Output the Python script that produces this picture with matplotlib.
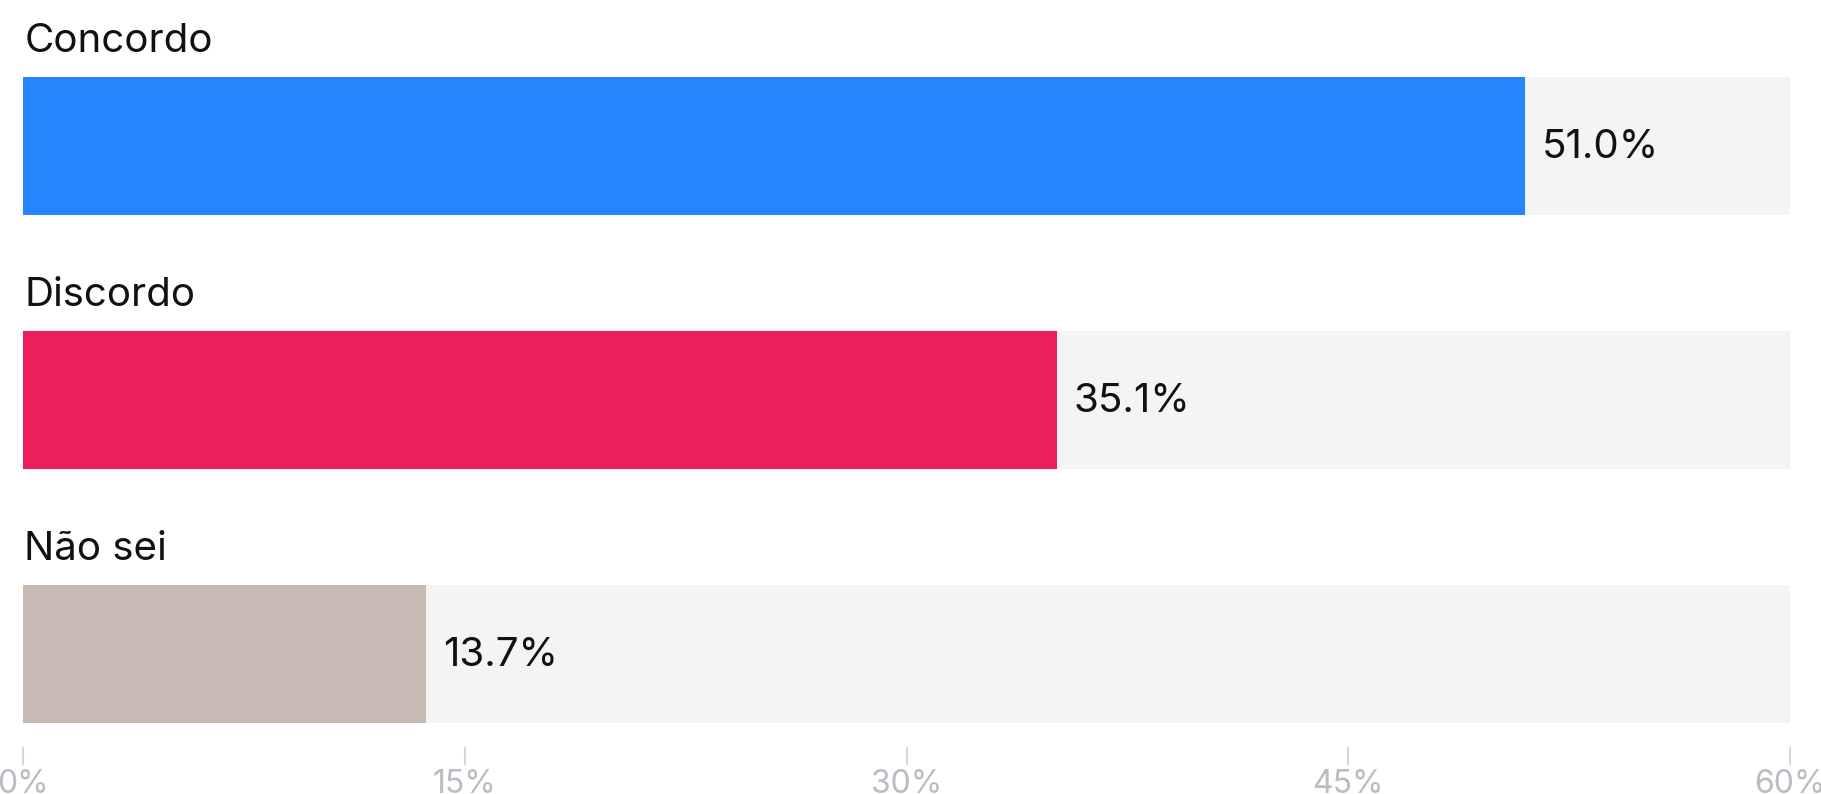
import matplotlib.pyplot as plt

# data
categories = ['Concordo', 'Discordo', 'Não sei']
values = [51.0, 35.1, 13.7]
colors = ['#2684ff', '#ec1f5c', '#c6bab2']
ticks = [0, 15, 30, 45, 60]

W, H = 1821, 794
plt.rcParams['font.family'] = ['Inter', 'DejaVu Sans']

fig = plt.figure(figsize=(W / 100, H / 100), dpi=100)
# axes in pixel-ish coordinates: 0% at x=23, 60% at x=1790, axis line at y=747
ax = fig.add_axes([23 / W, 47 / H, (1790 - 23) / W, 1 - 47 / H])
ax.set_xlim(0, 60)
ax.set_ylim(747, 0)

step = 254
for i, (cat, v, c) in enumerate(zip(categories, values, colors)):
    yc = 146 + step * i
    ax.barh(yc, 60, height=138, color='#f4f4f2', left=0)
    ax.barh(yc, v, height=138, color=c, left=0)
    ax.text(0.05, yc - 104, cat, fontsize=29, va='center', ha='left', color='#111111')
    ax.text(v + 0.58, yc + 2, f'{v:.1f}%', fontsize=29, va='center', ha='left', color='#111111')

for s in ax.spines.values():
    s.set_visible(False)
ax.set_yticks([])
ax.set_xticks(ticks)
ax.set_xticklabels([f'{t}%' for t in ticks], fontsize=23, color='#b9bcc3')
ax.tick_params(axis='x', length=13, width=1.5, color='#d6d6d6', pad=3)

fig.savefig('out.png', dpi=100)
